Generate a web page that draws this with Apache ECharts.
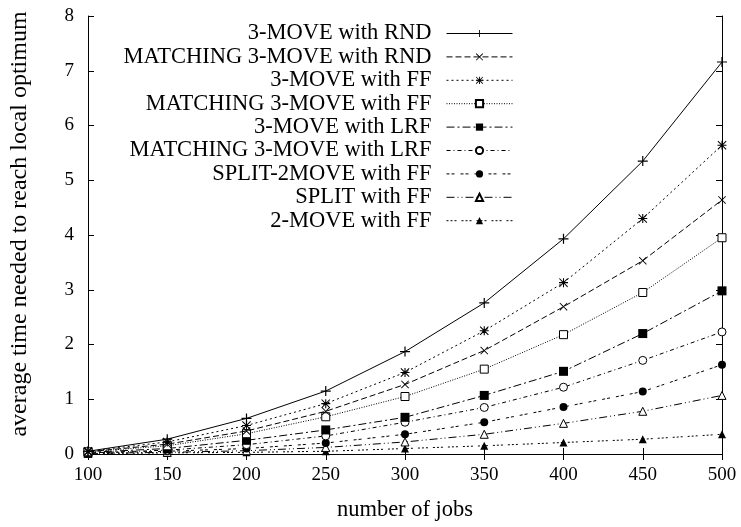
<!DOCTYPE html>
<html>
<head>
<meta charset="utf-8">
<script src="https://cdn.jsdelivr.net/npm/echarts@6/dist/echarts.min.js"></script>
<style>html,body{margin:0;padding:0;background:#fff}#c{width:741px;height:527px}</style>
</head>
<body>
<div id="c"></div>
<script>
var jobs = [100, 150, 200, 250, 300, 350, 400, 450, 500];
var names = [
  '3-MOVE with RND',
  'MATCHING 3-MOVE with RND',
  '3-MOVE with FF',
  'MATCHING 3-MOVE with FF',
  '3-MOVE with LRF',
  'MATCHING 3-MOVE with LRF',
  'SPLIT-2MOVE with FF',
  'SPLIT with FF',
  '2-MOVE with FF'
];
var move3Rnd      = [0.05, 0.27, 0.65, 1.15, 1.87, 2.76, 3.93, 5.35, 7.16];
var match3Rnd     = [0.04, 0.18, 0.42, 0.78, 1.27, 1.89, 2.69, 3.53, 4.64];
var move3FF       = [0.05, 0.22, 0.52, 0.92, 1.49, 2.25, 3.13, 4.30, 5.64];
var match3FF      = [0.04, 0.15, 0.37, 0.68, 1.05, 1.55, 2.18, 2.95, 3.95];
var move3LRF      = [0.03, 0.10, 0.25, 0.44, 0.67, 1.07, 1.51, 2.20, 2.98];
var match3LRF     = [0.02, 0.07, 0.17, 0.33, 0.58, 0.85, 1.22, 1.71, 2.23];
var split2MoveFF  = [0.02, 0.05, 0.10, 0.20, 0.36, 0.58, 0.86, 1.14, 1.63];
var splitFF       = [0.01, 0.03, 0.06, 0.12, 0.22, 0.36, 0.56, 0.78, 1.07];
var move2FF       = [0.01, 0.02, 0.03, 0.05, 0.10, 0.15, 0.21, 0.27, 0.36];
var yTicks = [0, 1, 2, 3, 4, 5, 6, 7, 8];

var allValues = [move3Rnd, match3Rnd, move3FF, match3FF, move3LRF, match3LRF, split2MoveFF, splitFF, move2FF];

var PLUS = 'path://M4.4,0H5.6V4.4H10V5.6H5.6V10H4.4V5.6H0V4.4H4.4Z';
var CROSS = 'path://M0.8,0L5,4.2L9.2,0L10,0.8L5.8,5L10,9.2L9.2,10L5,5.8L0.8,10L0,9.2L4.2,5L0,0.8Z';
var STAR = 'path://M4.4,0H5.6V4.4H10V5.6H5.6V10H4.4V5.6H0V4.4H4.4Z M0.8,0L5,4.2L9.2,0L10,0.8L5.8,5L10,9.2L9.2,10L5,5.8L0.8,10L0,9.2L4.2,5L0,0.8Z';

var styles = [
  {sym: PLUS, size: 10, fill: '#000', dash: 'solid'},
  {sym: CROSS, size: 8, fill: '#000', dash: [6, 3]},
  {sym: STAR, size: 9, fill: '#000', dash: [2, 3]},
  {sym: 'rect', size: 8, fill: '#fff', dash: [1, 1.5]},
  {sym: 'rect', size: 9, fill: '#000', dash: [8, 3, 2, 3]},
  {sym: 'circle', size: 8, fill: '#fff', dash: [4, 3, 1, 3]},
  {sym: 'circle', size: 8, fill: '#000', dash: [3, 2, 3, 6]},
  {sym: 'triangle', size: 8, fill: '#fff', dash: [8, 3, 1, 3, 1, 3]},
  {sym: 'triangle', size: 8, fill: '#000', dash: [2, 2, 2, 2, 2, 5]}
];

var serif = '"Liberation Serif", "Times New Roman", serif';

var series = names.map(function (n, i) {
  var st = styles[i];
  return {
    name: n,
    type: 'line',
    xAxisIndex: 0,
    yAxisIndex: 0,
    data: jobs.map(function (x, k) { return [x, allValues[i][k]]; }),
    symbol: st.sym,
    symbolSize: st.size,
    showSymbol: true,
    lineStyle: {color: '#000', width: 1, type: st.dash},
    itemStyle: {color: st.fill, borderColor: '#000', borderWidth: st.fill === '#fff' ? 1 : 0},
    emphasis: {disabled: true},
    z: 10 - i
  };
});

var legends = names.map(function (n, i) {
  return {
    data: [n],
    orient: 'vertical',
    align: 'right',
    right: 228,
    top: 22 + i * 23.4,
    padding: 0,
    itemWidth: 66,
    itemHeight: 9,
    selectedMode: false,
    lineStyle: {width: 1},
    textStyle: {fontFamily: serif, fontSize: 22.5, color: '#000', lineHeight: 22, padding: [0, 10, 0, 0]}
  };
});

var axisCommon = {
  axisLine: {show: true, lineStyle: {color: '#000', width: 1}},
  axisTick: {show: true, inside: true, length: 6, lineStyle: {color: '#000', width: 1}},
  splitLine: {show: false}
};

var option = {
  animation: false,
  backgroundColor: '#fff',
  grid: {left: 82, right: 19, top: 16, bottom: 71, containLabel: false},
  legend: legends,
  xAxis: [
    Object.assign({
      type: 'value', min: 100, max: 500, interval: 50, position: 'bottom',
      name: 'number of jobs', nameLocation: 'middle', nameGap: 45,
      nameTextStyle: {fontFamily: serif, fontSize: 22.5, color: '#000'},
      axisLabel: {fontFamily: serif, fontSize: 19, color: '#000', margin: 12}
    }, axisCommon),
    Object.assign({
      type: 'value', min: 100, max: 500, interval: 50, position: 'top',
      axisLabel: {show: false}
    }, axisCommon)
  ],
  yAxis: [
    Object.assign({
      type: 'value', min: yTicks[0], max: yTicks[yTicks.length - 1], interval: 1, position: 'left',
      name: 'average time needed to reach local optimum', nameLocation: 'middle', nameGap: 56,
      nameTextStyle: {fontFamily: serif, fontSize: 24, color: '#000', padding: [0, 0, 0, 22]},
      axisLabel: {fontFamily: serif, fontSize: 19, color: '#000', margin: 14}
    }, axisCommon),
    Object.assign({
      type: 'value', min: yTicks[0], max: yTicks[yTicks.length - 1], interval: 1, position: 'right',
      axisLabel: {show: false}
    }, axisCommon)
  ],
  series: series
};

var chart = echarts.init(document.getElementById('c'), null, {renderer: 'canvas'});
chart.setOption(option);
</script>
</body>
</html>
